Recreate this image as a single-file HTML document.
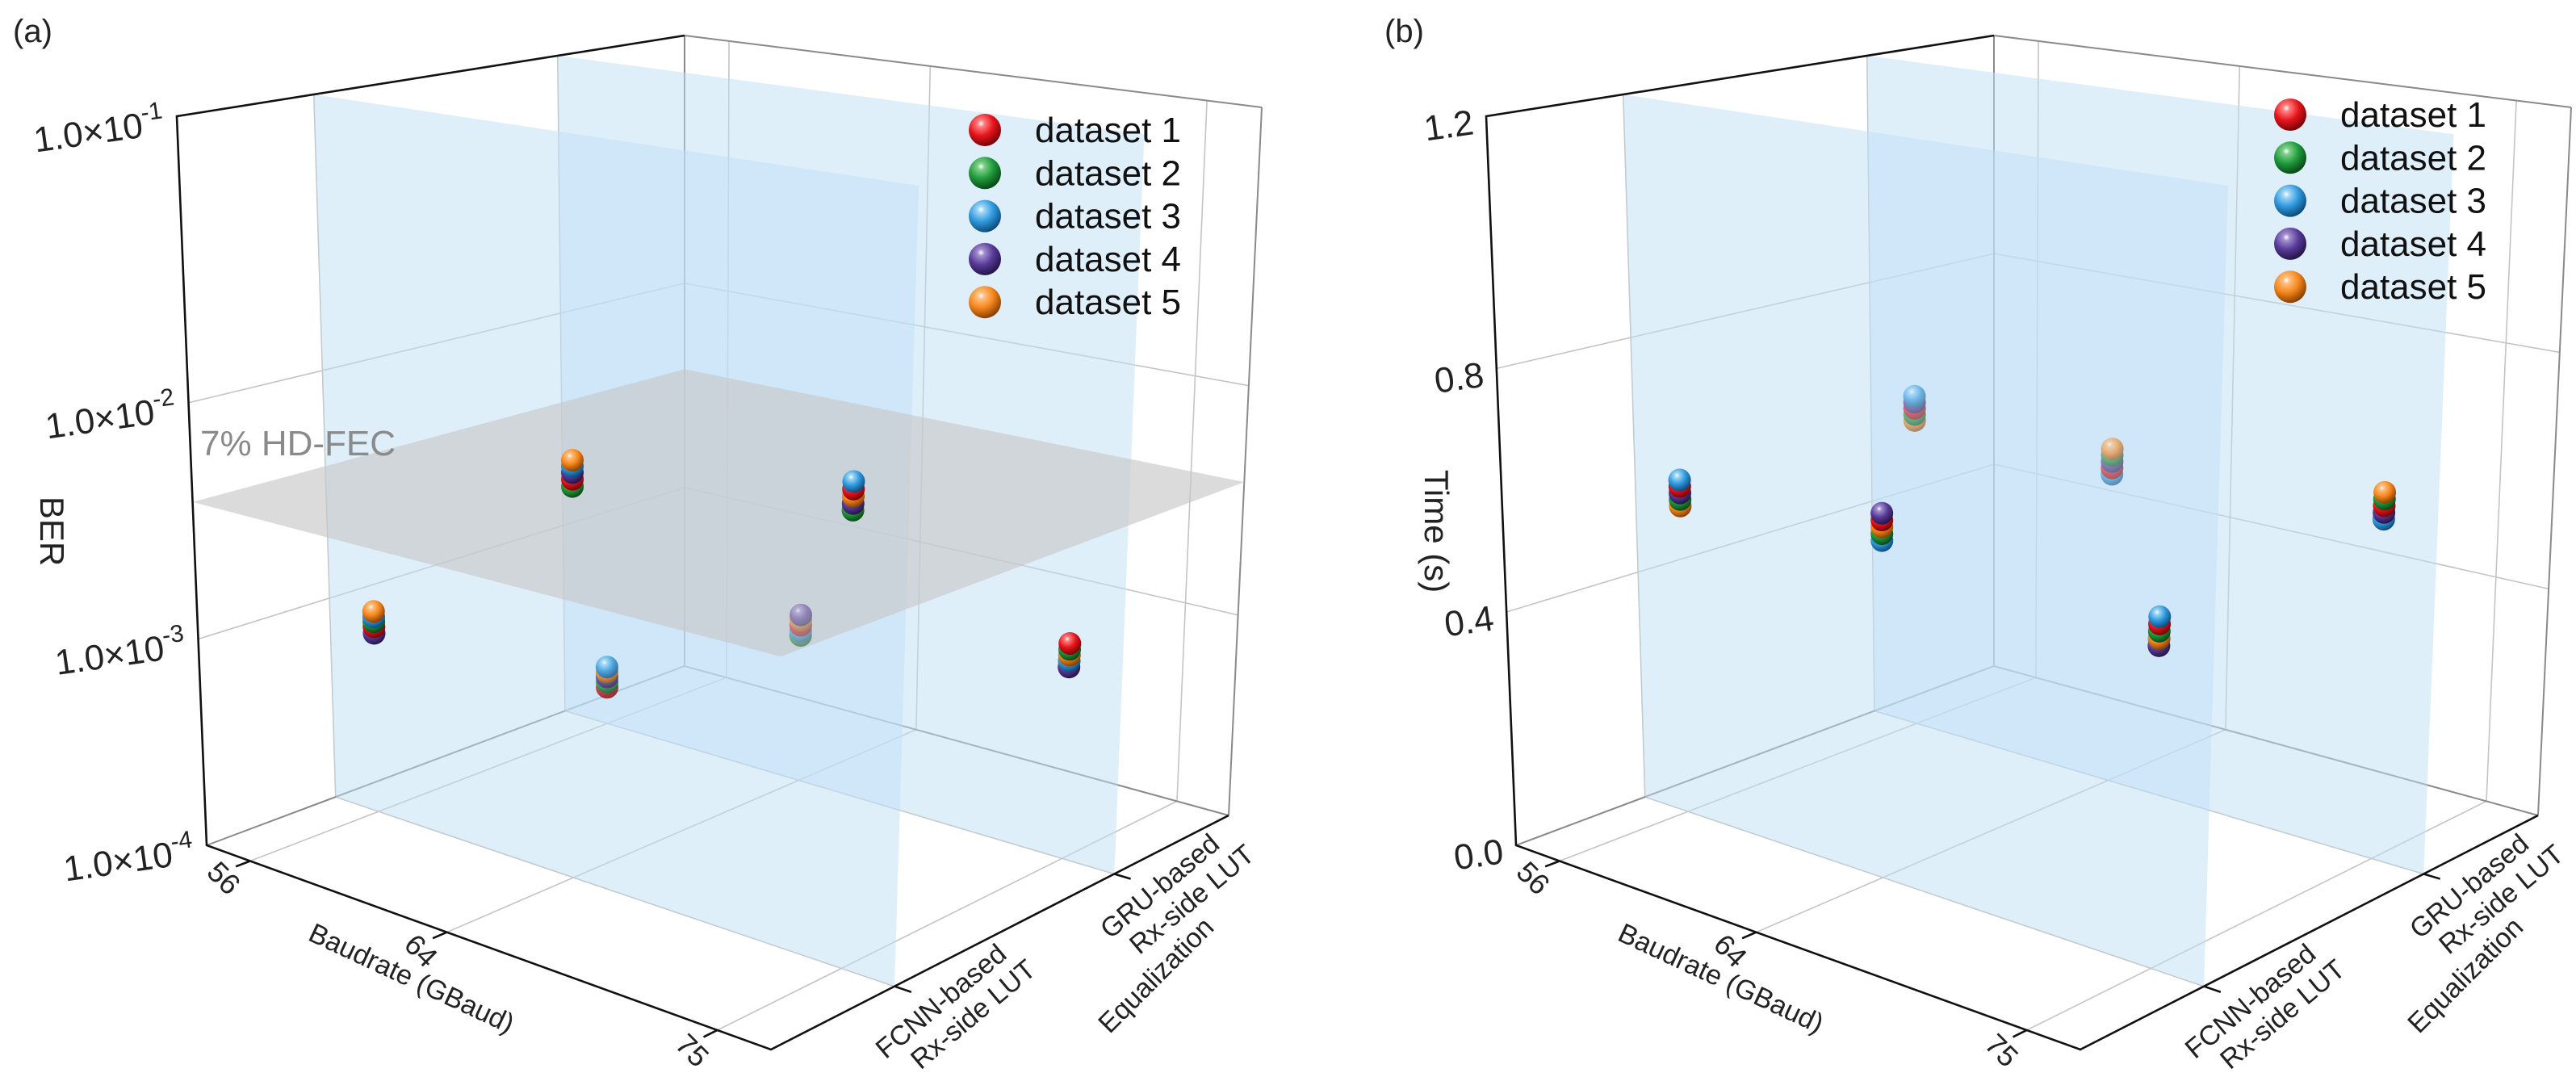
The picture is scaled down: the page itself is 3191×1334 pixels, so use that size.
<!DOCTYPE html>
<html><head><meta charset="utf-8"><style>
html,body{margin:0;padding:0;background:#fff;}
svg{display:block;font-family:"Liberation Sans",Arial,sans-serif;}
</style></head><body>
<svg id="fig" xmlns="http://www.w3.org/2000/svg" width="3191" height="1334" viewBox="0 0 3191 1334">
<defs>
<radialGradient id="g0" cx="38%" cy="30%" r="70%"><stop offset="0" stop-color="#fff"/><stop offset="0.15" stop-color="#ff8080"/><stop offset="0.55" stop-color="#e5141b"/><stop offset="1" stop-color="#7a0508"/></radialGradient>
<radialGradient id="g1" cx="38%" cy="30%" r="70%"><stop offset="0" stop-color="#fff"/><stop offset="0.15" stop-color="#7fd08a"/><stop offset="0.55" stop-color="#1f9a3a"/><stop offset="1" stop-color="#0b4a1a"/></radialGradient>
<radialGradient id="g2" cx="38%" cy="30%" r="70%"><stop offset="0" stop-color="#fff"/><stop offset="0.15" stop-color="#9fd6f7"/><stop offset="0.55" stop-color="#2e98dc"/><stop offset="1" stop-color="#0f4d7c"/></radialGradient>
<radialGradient id="g3" cx="38%" cy="30%" r="70%"><stop offset="0" stop-color="#fff"/><stop offset="0.15" stop-color="#a48fd0"/><stop offset="0.55" stop-color="#583a98"/><stop offset="1" stop-color="#26154a"/></radialGradient>
<radialGradient id="g4" cx="38%" cy="30%" r="70%"><stop offset="0" stop-color="#fff"/><stop offset="0.15" stop-color="#ffc080"/><stop offset="0.55" stop-color="#f5861c"/><stop offset="1" stop-color="#8a4204"/></radialGradient>
</defs>
</svg>
<script>
// ---- data ----
const seriesNames = ['dataset 1','dataset 2','dataset 3','dataset 4','dataset 5'];
const baudTicks = [56, 64, 75];
const eqCategories = ['FCNN-based', 'GRU-based'];
const clusterBaud = [56, 56, 64, 64, 75, 75];
const clusterEq = [0, 1, 0, 1, 0, 1];
const berTickExp = [-4, -3, -2, -1];
const timeTicks = [0.0, 0.4, 0.8, 1.2];
const berD1 = [8.3e-4, 1.56e-4, 6.0e-3, 6.2e-4, 9.9e-3, 1.08e-3];
const berD2 = [8.8e-4, 1.66e-4, 5.6e-3, 5.5e-4, 8.2e-3, 1.02e-3];
const berD3 = [9.3e-4, 2.0e-4, 6.8e-3, 5.8e-4, 1.05e-2, 9.0e-4];
const berD4 = [7.7e-4, 1.77e-4, 6.4e-3, 7.0e-4, 8.7e-3, 8.4e-4];
const berD5 = [9.9e-4, 1.88e-4, 7.2e-3, 6.6e-4, 9.3e-3, 9.6e-4];
const timeD1 = [0.565, 0.587, 0.592, 0.558, 0.538, 0.594];
const timeD2 = [0.543, 0.576, 0.570, 0.580, 0.527, 0.605];
const timeD3 = [0.576, 0.609, 0.559, 0.547, 0.549, 0.572];
const timeD4 = [0.554, 0.598, 0.603, 0.569, 0.505, 0.583];
const timeD5 = [0.532, 0.565, 0.581, 0.591, 0.516, 0.616];
const fecThreshold = 3.8e-3;

const NS = 'http://www.w3.org/2000/svg';
const svg = document.getElementById('fig');
function el(tag, attrs, parent) {
  const e = document.createElementNS(NS, tag);
  for (const k in attrs) e.setAttribute(k, attrs[k]);
  (parent || svg).appendChild(e);
  return e;
}
const lerp = (p, q, t) => [p[0] + (q[0] - p[0]) * t, p[1] + (q[1] - p[1]) * t];
function makeProj(dx) {
  const A=[256+dx,1047],B=[955+dx,1300],C=[1522+dx,1010],D=[848+dx,825];
  const A2=[219+dx,144],B2=[981+dx,266],C2=[1563+dx,133],D2=[848+dx,44];
  return function(u, v, w) {
    const b = lerp(lerp(A,B,u), lerp(D,C,u), v);
    const t = lerp(lerp(A2,B2,u), lerp(D2,C2,u), v);
    return lerp(b, t, w);
  };
}
const uScale = b => 0.077 + (b - 56) / 19 * 0.828;
const vScale = i => [0.27, 0.75][i];
function piece(xs, ws, x) {
  for (let i = 0; i < xs.length - 1; i++) {
    if (x <= xs[i+1] || i === xs.length - 2) {
      return ws[i] + (x - xs[i]) / (xs[i+1] - xs[i]) * (ws[i+1] - ws[i]);
    }
  }
}
const wBER = val => piece([-4,-3,-2,-1], [0,0.283,0.607,1], Math.log10(val));
const wTime = val => piece([0,0.4,0.8,1.2], [0,0.32,0.654,1], val);
const pts = a => a.map(p => p[0].toFixed(1) + ',' + p[1].toFixed(1)).join(' ');

function panel(dx, opts) {
  const P = makeProj(dx);
  const g = el('g', {});
  
  
  const grid = el('g', {stroke:'#c4c4c4','stroke-width':1.6,fill:'none'}, g);
  
  
  opts.wTicks.forEach(w => {
    if (w <= 0) return;
    el('polyline', {points: pts([P(0,0,w), P(0,1,w), P(1,1,w)])}, grid);
  });
  baudTicks.forEach(b => {
    const u = uScale(b);
    el('polyline', {points: pts([P(u,0,0), P(u,1,0), P(u,1,1)])}, grid);
  });
  [0,1].forEach(i => {
    const v = vScale(i);
    el('polyline', {points: pts([P(1,v,0), P(0,v,0), P(0,v,1)])}, grid);
  });
  const frame = el('g', {stroke:'#8a8a8a','stroke-width':2,fill:'none'}, g);
  
  
  el('line', {x1:P(0,1,0)[0],y1:P(0,1,0)[1],x2:P(0,1,1)[0],y2:P(0,1,1)[1]}, frame);
  el('line', {x1:P(1,1,0)[0],y1:P(1,1,0)[1],x2:P(1,1,1)[0],y2:P(1,1,1)[1]}, frame);
  el('line', {x1:P(0,1,1)[0],y1:P(0,1,1)[1],x2:P(1,1,1)[0],y2:P(1,1,1)[1]}, frame);
  el('polyline', {points: pts([P(0,0,0), P(0,1,0), P(1,1,0)])}, frame);
  [1,0].forEach(i => {
    const v = vScale(i);
    const pl = el('polygon', {points: pts([P(0,v,0),P(1,v,0),P(1,v,1),P(0,v,1)]), fill:'#bfe0f5','fill-opacity':0.5}, g);
    
    
  });
  if (opts.fec) {
    const w = wBER(fecThreshold);
    const fp = el('polygon', {points: pts([P(0,0,w),P(1,0,w),P(1,1,w),P(0,1,w)]), fill:'#c8c8c8','fill-opacity':0.65}, g);
    
    
    const ft = el('text', {x: dx+248, y: 564, 'font-size':44, fill:'#8a8a8a'}, g);
    ft.textContent = '7% HD-FEC';
    
    
  }
  const R = 14;
  for (let c = 0; c < clusterBaud.length; c++) {
    const u = uScale(clusterBaud[c]), v = vScale(clusterEq[c]);
    const order = opts.series.map((s, i) => ({i, val: s[c]})).sort((a, b) => a.val - b.val);
    const cg = el('g', {opacity: opts.fade[c]}, g);
    
    
    order.forEach(o => {
      const p = P(u, v, opts.wOf(o.val));
      const s = el('circle', {cx: p[0], cy: p[1], r: R, fill: 'url(#g' + o.i + ')'}, cg);
      
      
    });
  }
  const ax = el('g', {stroke:'#111','stroke-width':2.6,fill:'none'}, g);
  
  
  el('polyline', {points: pts([P(0,1,1), P(0,0,1), P(0,0,0), P(1,0,0), P(1,1,0)])}, ax);
  baudTicks.forEach(b => { const u = uScale(b); el('line', {x1:P(u,0,0)[0],y1:P(u,0,0)[1],x2:P(u,-0.03,0)[0],y2:P(u,-0.03,0)[1]}, ax); });
  [0,1].forEach(i => { const v = vScale(i); el('line', {x1:P(1,v,0)[0],y1:P(1,v,0)[1],x2:P(1.03,v,0)[0],y2:P(1.03,v,0)[1]}, ax); });
  opts.yLabels.forEach((lab, k) => {
    const p = P(0, 0, opts.wTicks[k]);
    const t = el('text', {x: p[0]-14, y: p[1]+22, 'font-size':44, fill:'#222', 'text-anchor':'end', transform:'rotate(-8 '+(p[0]-14)+' '+(p[1]+22)+')'}, g);
    
    
    if (opts.fec) {
      t.appendChild(document.createTextNode('1.0×10'));
      const sp = el('tspan', {dy: -20, 'font-size': 30}, t);
      sp.textContent = lab;
    } else t.textContent = lab;
  });
  baudTicks.forEach(b => {
    const p = P(uScale(b), -0.07, 0);
    const t = el('text', {x:p[0], y:p[1]+14, 'font-size':36, fill:'#222','text-anchor':'middle', transform:'rotate(45 '+p[0]+' '+(p[1]+14)+')'}, g);
    t.textContent = String(b);
    
    
  });
  eqCategories.forEach((name, i) => {
    const p = P(1.1, vScale(i), 0);
    const t = el('text', {x:p[0]+6, y:p[1]+16, 'font-size':34, fill:'#222','text-anchor':'middle', transform:'rotate(-40 '+(p[0]+6)+' '+(p[1]+16)+')'}, g);
    
    
    const a = el('tspan', {x:p[0]+6, dy:-16}, t); a.textContent = name;
    const b2 = el('tspan', {x:p[0]+26, dy:38}, t); b2.textContent = 'Rx-side LUT';
  });
  const bt = el('text', {x:dx+505, y:1222, 'font-size':34, fill:'#222','text-anchor':'middle', transform:'rotate(25 '+(dx+505)+' 1222)'}, g);
  bt.textContent = 'Baudrate (GBaud)';
  
  
  const et = el('text', {x:dx+1440, y:1216, 'font-size':34, fill:'#222','text-anchor':'middle', transform:'rotate(-45 '+(dx+1440)+' 1216)'}, g);
  et.textContent = 'Equalization';
  
  
  const yt = el('text', {x:opts.yTitleX, y:658, 'font-size':42, fill:'#222','text-anchor':'middle', transform:'rotate(90 '+opts.yTitleX+' 658)'}, g);
  yt.textContent = opts.yTitle;
  
  
  const pl = el('text', {x:dx+opts.labX, y:52, 'font-size':40, fill:'#222'}, g);
  pl.textContent = opts.panelLabel;
  
  
  const lg = el('g', {}, g);
  
  
  seriesNames.forEach((n, i) => {
    const y = opts.legY + i * 53.3;
    const ent = el('g', {}, lg);
    
    
    el('circle', {cx: opts.legX, cy: y, r: 20, fill: 'url(#g' + i + ')'}, ent);
    const t = el('text', {x: opts.legX + 62, y: y + 15, 'font-size': 44, fill: '#111'}, ent);
    t.textContent = n;
  });
}
panel(0, {
  name: 'panel-a-ber', fec: true, panelLabel: '(a)', labX: 16,
  series: [berD1, berD2, berD3, berD4, berD5], wOf: wBER,
  wTicks: berTickExp.map(e => wBER(Math.pow(10, e))),
  yLabels: berTickExp.map(String), yTitle: 'BER', yTitleX: 50,
  fade: [1, 0.8, 1, 0.5, 1, 1], legX: 1220, legY: 161
});
panel(1622, {
  name: 'panel-b-time', fec: false, panelLabel: '(b)', labX: 93,
  series: [timeD1, timeD2, timeD3, timeD4, timeD5], wOf: wTime,
  wTicks: timeTicks.map(wTime),
  yLabels: timeTicks.map(t => t.toFixed(1)), yTitle: 'Time (s)', yTitleX: 1765,
  fade: [1, 0.6, 1, 0.6, 1, 1], legX: 2837, legY: 142
});
</script>
</body></html>
